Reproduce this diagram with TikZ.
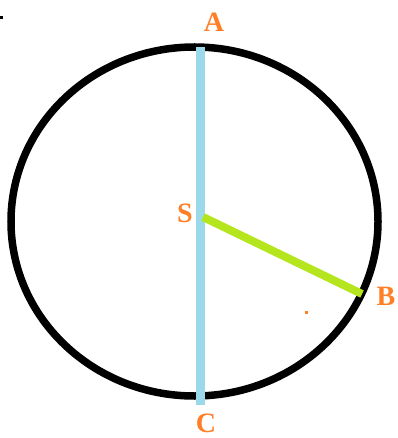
\documentclass[tikz,border=0pt]{standalone}
\usepackage{fontspec}
\setmainfont{Liberation Serif}
\definecolor{lbl}{HTML}{FF7F27}
\definecolor{diam}{HTML}{99D9EA}
\definecolor{rad}{HTML}{B5E61D}
\begin{document}
\begin{tikzpicture}[x=1pt,y=-1pt,
  lab/.style={text=lbl,font=\fontsize{28}{30}\selectfont\bfseries,inner sep=0pt}]
\useasboundingbox (0,0) rectangle (397,438);
\fill[white] (0,0) rectangle (397,438);
% circle
\draw[line width=7.5pt] (194.5,221.5) ellipse [x radius=183.5, y radius=174.5];
% points
\coordinate (top) at (200,47);
\coordinate (bot) at (200,405);
\coordinate (s) at (203,217);
\coordinate (b) at (362,294);
% diameter and radius
\draw[diam,line width=9pt] (top) -- (bot);
\draw[rad,line width=8pt] (s) -- (b);
% labels
\node[lab] (A) at (214,22) {A};
\node[lab] (S) at (185,213) {S};
\node[lab] (B) at (386,296) {B};
\node[lab] (C) at (206,423) {C};
% small dots
\fill[black] (0,16.5) rectangle (3,19.5);
\fill[lbl] (305,311) rectangle (307.5,313.5);
\end{tikzpicture}
\end{document}
